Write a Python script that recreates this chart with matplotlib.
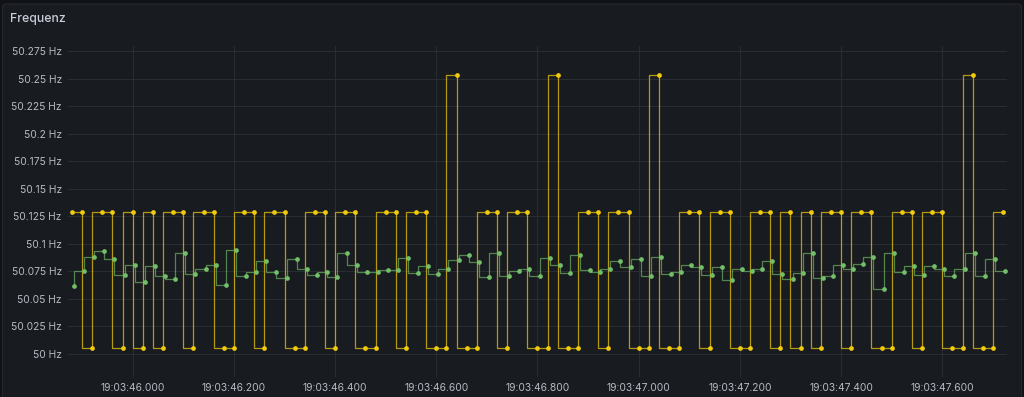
import numpy as np
import pandas as pd
import matplotlib
matplotlib.use("Agg")
import matplotlib.pyplot as plt
import matplotlib.dates as mdates
from matplotlib.patches import FancyBboxPatch

plt.rcParams['font.family'] = ['Inter', 'DejaVu Sans']

# Colours (Grafana dark theme)
PAGE_BG = '#111217'
PANEL_BG = '#181b1f'
PANEL_BORDER = '#26282d'
GRID = '#2a2d32'
TEXT = '#ccccdc'
YELLOW = '#F2CC0C'
GREEN = '#73BF69'

# ---------------------------------------------------------------
# Data: samples every 20 ms, green series a few ms after yellow
# ---------------------------------------------------------------
start_yellow = '2024-01-01 19:03:45.880'
start_green = '2024-01-01 19:03:45.884'
n_samples = 93

# yellow series only takes three levels
LOW, HIGH, PEAK = 50.0055, 50.1291, 50.2536
yellow_levels = [
    1, 1, 0, 1, 1, 0, 1, 0, 1, 0,
    1, 1, 0, 1, 1, 0, 0, 1, 1, 0,
    1, 1, 0, 0, 1, 1, 0, 1, 1, 0,
    0, 1, 1, 0, 1, 1, 0, 0, 2, 0,
    0, 1, 1, 0, 1, 1, 0, 0, 2, 0,
    0, 1, 1, 0, 1, 1, 0, 0, 2, 0,
    0, 1, 1, 0, 1, 1, 0, 0, 1, 1,
    0, 1, 0, 1, 0, 1, 1, 0, 1, 1,
    0, 0, 1, 1, 0, 1, 1, 0, 0, 2,
    0, 0, 1,
]
yellow_values = [(LOW, HIGH, PEAK)[k] for k in yellow_levels]

green_values = [
    50.0618, 50.0752, 50.0879, 50.0934, 50.0861, 50.0718, 50.0806, 50.0652, 50.0800, 50.0706,
    50.0682, 50.0918, 50.0725, 50.0773, 50.0806, 50.0628, 50.0943, 50.0712, 50.0740, 50.0843,
    50.0740, 50.0688, 50.0858, 50.0773, 50.0715, 50.0746, 50.0694, 50.0912, 50.0806, 50.0743,
    50.0740, 50.0758, 50.0764, 50.0873, 50.0731, 50.0794, 50.0725, 50.0767, 50.0849, 50.0897,
    50.0831, 50.0694, 50.0912, 50.0712, 50.0752, 50.0770, 50.0712, 50.0867, 50.0812, 50.0731,
    50.0897, 50.0761, 50.0743, 50.0773, 50.0843, 50.0785, 50.0861, 50.0706, 50.0879, 50.0725,
    50.0743, 50.0809, 50.0791, 50.0718, 50.0791, 50.0670, 50.0767, 50.0752, 50.0773, 50.0843,
    50.0725, 50.0676, 50.0731, 50.0918, 50.0691, 50.0706, 50.0806, 50.0767, 50.0818, 50.0879,
    50.0591, 50.0918, 50.0743, 50.0794, 50.0718, 50.0797, 50.0773, 50.0706, 50.0773, 50.0912,
    50.0706, 50.0861, 50.0752,
]

yellow_times = pd.date_range(start_yellow, periods=n_samples, freq='20ms').to_numpy()
green_times = pd.date_range(start_green, periods=n_samples, freq='20ms').to_numpy()

y_ticks = [50.0, 50.025, 50.05, 50.075, 50.1, 50.125, 50.15, 50.175, 50.2, 50.225, 50.25, 50.275]
y_tick_labels = ['50 Hz', '50.025 Hz', '50.05 Hz', '50.075 Hz', '50.1 Hz', '50.125 Hz',
                 '50.15 Hz', '50.175 Hz', '50.2 Hz', '50.225 Hz', '50.25 Hz', '50.275 Hz']
x_ticks = pd.date_range('2024-01-01 19:03:46.000', periods=9, freq='200ms')
x_tick_labels = [t.strftime('%H:%M:%S.%f')[:-3] for t in x_ticks]

x_range = (pd.Timestamp('2024-01-01 19:03:45.8721'), pd.Timestamp('2024-01-01 19:03:47.7285'))
y_range = (49.9790, 50.2797)

# ---------------------------------------------------------------
# Figure / panel
# ---------------------------------------------------------------
W, H = 1024, 397
fig = plt.figure(figsize=(W / 100, H / 100), dpi=100)
fig.patch.set_facecolor(PAGE_BG)

panel = FancyBboxPatch((2.5 / 100, -0.1), (1019 / 100), (393 / 100) + 0.1,
                       boxstyle='round,pad=0,rounding_size=0.03',
                       facecolor=PANEL_BG, edgecolor=PANEL_BORDER, linewidth=0.8,
                       transform=fig.dpi_scale_trans, zorder=-10)
fig.patches.append(panel)

fig.text(10 / W, 1 - 19 / H, 'Frequenz', ha='left', va='center',
         fontsize=8.8, fontweight='medium', color=TEXT)

ax = fig.add_axes([68 / W, 1 - 377 / H, (1007.3 - 68) / W, (377 - 46) / H])
ax.set_zorder(2)
ax.set_facecolor('none')
for sp in ax.spines.values():
    sp.set_visible(False)

# yellow series
ax.plot(yellow_times, yellow_values, drawstyle='steps-pre', color=YELLOW,
        alpha=0.72, linewidth=0.9, zorder=3)
ax.plot(yellow_times, yellow_values, linestyle='none', marker='o', markersize=3.4,
        color=YELLOW, markeredgewidth=0, zorder=4)

# green series
ax.plot(green_times, green_values, drawstyle='steps-pre', color=GREEN,
        alpha=0.65, linewidth=0.9, zorder=5)
ax.plot(green_times, green_values, linestyle='none', marker='o', markersize=3.4,
        color=GREEN, markeredgewidth=0, zorder=6)

ax.set_xlim(*x_range)
ax.set_ylim(*y_range)

ax.set_yticks(y_ticks)
ax.set_yticklabels(y_tick_labels)
ax.set_xticks(x_ticks.to_numpy())
ax.set_xticklabels(x_tick_labels)

ax.tick_params(axis='both', length=0, labelsize=7.4, labelcolor='#b9bac4')
ax.tick_params(axis='y', pad=4.5)
ax.tick_params(axis='x', pad=4)

ax.grid(True, color=GRID, linewidth=0.7, zorder=1)
ax.set_axisbelow(True)

fig.savefig('out.png', dpi=100, facecolor=PAGE_BG)
